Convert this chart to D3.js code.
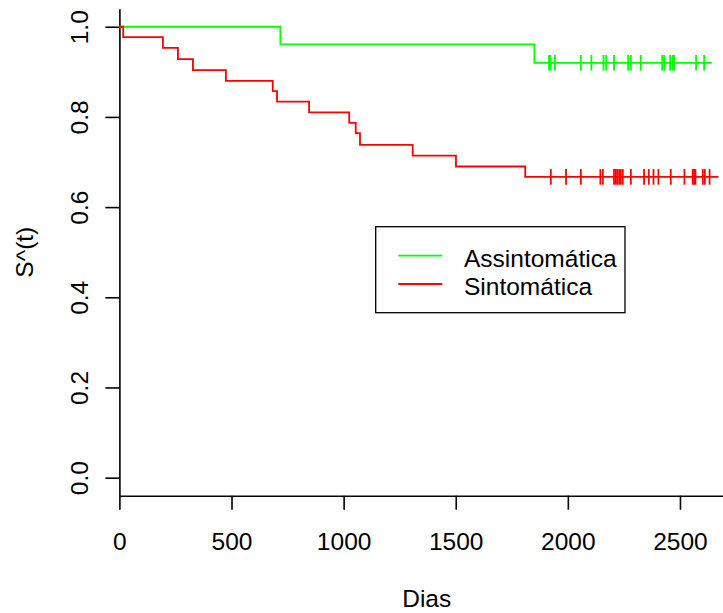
<!DOCTYPE html>
<html>
<head>
<meta charset="utf-8">
<script src="https://cdn.jsdelivr.net/npm/d3@7"></script>
<style>
  html, body { margin: 0; padding: 0; background: #fff; }
  svg { display: block; }
  text { font-family: "Liberation Sans", Arial, sans-serif; fill: #000; }
</style>
</head>
<body>
<svg id="chart" width="723" height="613"></svg>
<script>
// Kaplan-Meier survival estimates by group
const groups = ["Assintomática", "Sintomática"];
const groupColors = ["#00ff00", "#ff0000"];

// Assintomática: event times (days) and survival after each event
const asymTimes = [0, 718, 1851];
const asymSurv = [1.0, 0.961, 0.920];
const asymEnd = 2642;
const asymCensored = [1916, 1922, 1942, 2058, 2105, 2159, 2171, 2206, 2269, 2281,
  2325, 2421, 2430, 2456, 2467, 2474, 2572, 2608];

// Sintomática: event times (days) and survival after each event
const symTimes = [0, 17, 194, 261, 328, 475, 684, 703, 846, 1025, 1054, 1073, 1308, 1501, 1810];
const symSurv = [1.0, 0.977, 0.953, 0.928, 0.904, 0.880, 0.857, 0.834, 0.810, 0.787,
  0.764, 0.738, 0.714, 0.690, 0.667];
const symEnd = 2672;
const symCensored = [1924, 1992, 2058, 2145, 2156, 2206, 2214, 2221, 2229, 2236, 2245,
  2281, 2340, 2361, 2382, 2404, 2459, 2520, 2557, 2563, 2569, 2602, 2611, 2632];

const xTicks = [0, 500, 1000, 1500, 2000, 2500];
const yTicks = [0.0, 0.2, 0.4, 0.6, 0.8, 1.0];
const xTitle = "Dias";
const yTitle = "S^(t)";

const svg = d3.select("#chart");
const FS = 24.5;

const x = d3.scaleLinear().domain([0, 2741]).range([119.4, 734]);
const y = d3.scaleLinear().domain([-0.04, 1.04]).range([495.7, 8.7]);

// axes (L-shaped frame)
const xAxis = svg.append("g")
  .attr("transform", `translate(0,${y.range()[0]})`)
  .call(d3.axisBottom(x).tickValues(xTicks).tickSize(14).tickSizeOuter(0).tickPadding(23)
    .tickFormat(d3.format("d")));
const yAxis = svg.append("g")
  .attr("transform", `translate(${x.range()[0]},0)`)
  .call(d3.axisLeft(y).tickValues(yTicks).tickSize(14).tickSizeOuter(0)
    .tickFormat(d3.format(".1f")));

[xAxis, yAxis].forEach(a => {
  a.selectAll("path.domain").attr("stroke", "#000").attr("stroke-width", 1.6);
  a.selectAll(".tick line").attr("stroke", "#000").attr("stroke-width", 1.6);
  a.selectAll("text").attr("font-size", FS).attr("font-family", null).attr("fill", "#000");
});
yAxis.selectAll(".tick text")
  .attr("transform", "rotate(-90)")
  .attr("x", 0).attr("y", -31).attr("dy", 0)
  .attr("text-anchor", "middle");

svg.append("text")
  .attr("x", 426.7).attr("y", 606.5)
  .attr("text-anchor", "middle").attr("font-size", FS)
  .text(xTitle);
svg.append("text")
  .attr("transform", `translate(33,${(y.range()[0] + y.range()[1]) / 2}) rotate(-90)`)
  .attr("text-anchor", "middle").attr("font-size", FS)
  .text(yTitle);

// survival step curves with censoring marks
const series = [
  { times: asymTimes, surv: asymSurv, end: asymEnd, cens: asymCensored, color: groupColors[0] },
  { times: symTimes, surv: symSurv, end: symEnd, cens: symCensored, color: groupColors[1] }
];

const line = d3.line().x(d => x(d[0])).y(d => y(d[1])).curve(d3.curveStepAfter);

function survAt(s, t) {
  let v = 1;
  s.times.forEach((tt, i) => { if (tt <= t) v = s.surv[i]; });
  return v;
}

series.forEach(s => {
  const pts = s.times.map((t, i) => [t, s.surv[i]]);
  pts.push([s.end, s.surv[s.surv.length - 1]]);
  svg.append("path")
    .attr("d", line(pts))
    .attr("fill", "none")
    .attr("stroke", s.color)
    .attr("stroke-width", 1.8);
  svg.append("g").selectAll("line")
    .data(s.cens)
    .join("line")
    .attr("x1", d => x(d)).attr("x2", d => x(d))
    .attr("y1", d => y(survAt(s, d)) - 7.8)
    .attr("y2", d => y(survAt(s, d)) + 7.8)
    .attr("stroke", s.color)
    .attr("stroke-width", 1.8);
});

// legend
const legend = svg.append("g");
legend.append("rect")
  .attr("x", 375.7).attr("y", 226.7)
  .attr("width", 249.3).attr("height", 86)
  .attr("fill", "#fff").attr("stroke", "#000").attr("stroke-width", 1.3);
groups.forEach((g, i) => {
  const ly = 255.7 + i * 28.3;
  legend.append("line")
    .attr("x1", 398.3).attr("x2", 442.3)
    .attr("y1", ly).attr("y2", ly)
    .attr("stroke", groupColors[i]).attr("stroke-width", 1.8);
  legend.append("text")
    .attr("x", 464).attr("y", ly + 11)
    .attr("font-size", FS)
    .text(g);
});
</script>
</body>
</html>
